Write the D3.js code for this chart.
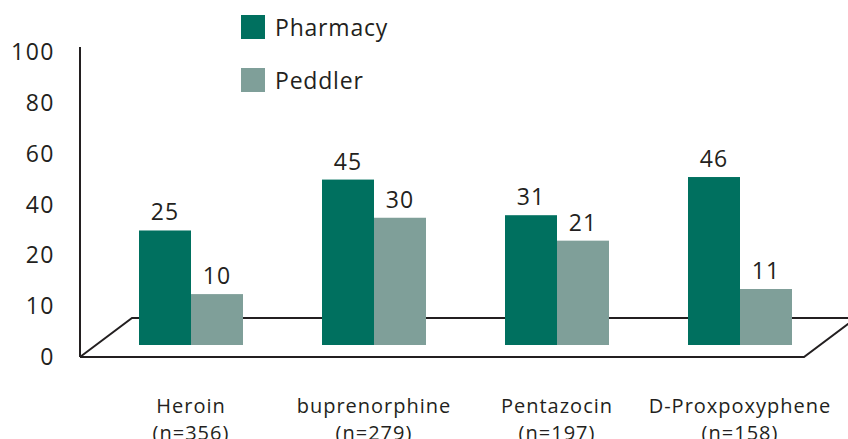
<!DOCTYPE html>
<html>
<head>
<meta charset="utf-8">
<script src="https://cdn.jsdelivr.net/npm/d3@7"></script>
<style>
  html, body { margin: 0; padding: 0; background: #fff; }
  svg { display: block; font-family: "Open Sans", "Noto Sans", sans-serif; }
  text { fill: #231f20; }
</style>
</head>
<body>
<svg id="chart" width="848" height="439"></svg>
<script>
const categories = ["Heroin", "buprenorphine", "Pentazocin", "D-Proxpoxyphene"];
const sampleSizes = ["(n=356)", "(n=279)", "(n=197)", "(n=158)"];
const seriesNames = ["Pharmacy", "Peddler"];
const pharmacy = [25, 45, 31, 46];
const peddler = [10, 30, 21, 11];
const tickValues = [0, 10, 20, 40, 60, 80, 100];

const colors = { Pharmacy: "#00705f", Peddler: "#7f9f99" };

const svg = d3.select("#chart");

// axis labels are spaced evenly although the values are not
const yBase = 357, yStep = 50.9;
const y = d3.scaleLinear()
  .domain(tickValues)
  .range(tickValues.map((d, i) => yBase - i * yStep));

// 3D floor: bars stand a little behind the front edge
const depth = { dx: 52, dy: 39 };
const barShift = 12;

const x0 = d3.scaleBand()
  .domain(categories)
  .range([102.4, 828.6])
  .paddingInner(0.4317)
  .paddingOuter(0.2);

const x1 = d3.scaleBand()
  .domain(seriesNames)
  .range([0, x0.bandwidth()]);

const axisX = 80, axisTop = 47;
const floorRight = 804;

// floor outline
const floor = d3.path();
floor.moveTo(axisX, yBase);
floor.lineTo(axisX + depth.dx, yBase - depth.dy);
floor.lineTo(floorRight + depth.dx, yBase - depth.dy);
floor.moveTo(axisX, yBase);
floor.lineTo(floorRight, yBase);
floor.lineTo(floorRight + depth.dx, yBase - depth.dy);
svg.append("path")
  .attr("d", floor.toString())
  .attr("fill", "none")
  .attr("stroke", "#231f20")
  .attr("stroke-width", 2);

// y axis
svg.append("line")
  .attr("x1", axisX).attr("x2", axisX)
  .attr("y1", axisTop).attr("y2", yBase)
  .attr("stroke", "#231f20")
  .attr("stroke-width", 2);

svg.append("g")
  .selectAll("text")
  .data(tickValues)
  .join("text")
  .attr("x", 55)
  .attr("y", (d) => y(d))
  .attr("dy", "0.36em")
  .attr("text-anchor", "end")
  .attr("font-size", 23)
  .attr("letter-spacing", 1.5)
  .text((d) => d);

// bars
const rows = categories.map((c, i) => ({
  category: c,
  values: [
    { key: "Pharmacy", value: pharmacy[i] },
    { key: "Peddler", value: peddler[i] },
  ],
}));

const groups = svg.append("g")
  .selectAll("g")
  .data(rows)
  .join("g")
  .attr("transform", (d) => `translate(${x0(d.category)},0)`);

groups.selectAll("rect")
  .data((d) => d.values)
  .join("rect")
  .attr("x", (d) => x1(d.key))
  .attr("width", x1.bandwidth())
  .attr("y", (d) => y(d.value) - barShift)
  .attr("height", (d) => y(0) - y(d.value))
  .attr("fill", (d) => colors[d.key]);

groups.selectAll("text")
  .data((d) => d.values)
  .join("text")
  .attr("x", (d) => x1(d.key) + x1.bandwidth() / 2)
  .attr("y", (d) => y(d.value) - barShift - 10)
  .attr("text-anchor", "middle")
  .attr("font-size", 23)
  .attr("letter-spacing", 1)
  .text((d) => d.value);

// category labels, second line runs off the bottom edge as in the source
const cx = (d) => x0(d) + x0.bandwidth() / 2;
const catG = svg.append("g")
  .attr("font-size", 20)
  .attr("letter-spacing", 1)
  .attr("text-anchor", "middle");
catG.selectAll("text.cat")
  .data(categories)
  .join("text")
  .attr("class", "cat")
  .attr("x", cx)
  .attr("y", 413)
  .text((d) => d);
catG.selectAll("text.n")
  .data(categories)
  .join("text")
  .attr("class", "n")
  .attr("x", cx)
  .attr("y", 440)
  .text((d, i) => sampleSizes[i]);

// legend
const legend = svg.append("g")
  .selectAll("g")
  .data(seriesNames)
  .join("g")
  .attr("transform", (d, i) => `translate(241,${15 + i * 53})`);
legend.append("rect")
  .attr("width", 24)
  .attr("height", 24)
  .attr("fill", (d) => colors[d]);
legend.append("text")
  .attr("x", 34)
  .attr("y", 21)
  .attr("font-size", 23)
  .attr("letter-spacing", 0.8)
  .text((d) => d);
</script>
</body>
</html>
